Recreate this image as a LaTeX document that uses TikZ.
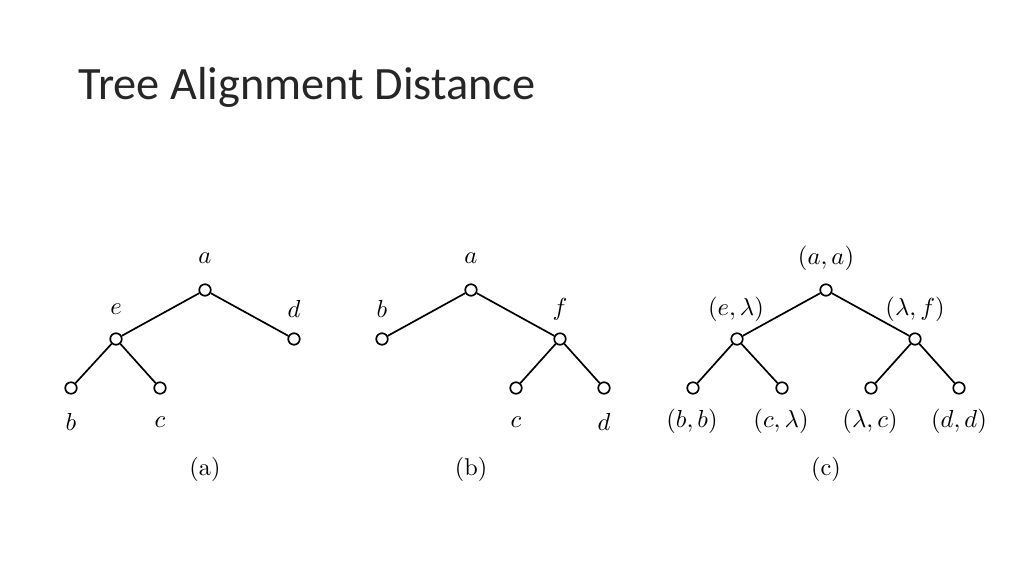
\documentclass[tikz,border=0pt]{standalone}
\usepackage{amsmath}
\usepackage{fontspec}
\newfontfamily\titlefont{Carlito}
\usetikzlibrary{positioning}

\begin{document}
\begin{tikzpicture}[x=0.015625cm, y=-0.015625cm,
    every node/.style={font=\fontsize{10.8}{13}\selectfont},
    vert/.style={circle, draw, line width=0.75pt, inner sep=0pt, minimum size=0.18cm},
    edge/.style={line width=0.75pt}]
    \useasboundingbox (0,0) rectangle (1024,576);

    % Title
    \node[anchor=base west, inner sep=0pt, text=black!85, font=\titlefont\fontsize{20.6}{24}\selectfont] (title) at (78,100) {Tree Alignment Distance};

    % Tree (a)
    \node[vert] (aa) at (205,290) {};
    \node[vert] (ae) at (116,339) {};
    \node[vert] (ad) at (294,339) {};
    \node[vert] (ab) at (71,388) {};
    \node[vert] (ac) at (160,388) {};
    \draw[edge] (aa) -- (ae);
    \draw[edge] (aa) -- (ad);
    \draw[edge] (ae) -- (ab);
    \draw[edge] (ae) -- (ac);
    \node (la) at (205,258) {$a$};
    \node (le) at (116,309) {$e$};
    \node (ld) at (294,309) {$d$};
    \node (lb) at (71,422) {$b$};
    \node (lc) at (160,422) {$c$};
    \node (capa) at (205,469) {(a)};

    % Tree (b)
    \node[vert] (ba) at (471,290) {};
    \node[vert] (bb) at (382,339) {};
    \node[vert] (bf) at (560,339) {};
    \node[vert] (bc) at (516,388) {};
    \node[vert] (bd) at (604,388) {};
    \draw[edge] (ba) -- (bb);
    \draw[edge] (ba) -- (bf);
    \draw[edge] (bf) -- (bc);
    \draw[edge] (bf) -- (bd);
    \node (lba) at (471,258) {$a$};
    \node (lbb) at (382,309) {$b$};
    \node (lbf) at (560,309) {$f$};
    \node (lbc) at (516,422) {$c$};
    \node (lbd) at (604,422) {$d$};
    \node (capb) at (471,469) {(b)};

    % Tree (c): the alignment
    \node[vert] (ca) at (826,290) {};
    \node[vert] (ce) at (737,339) {};
    \node[vert] (cf) at (915,339) {};
    \node[vert] (cb) at (693,388) {};
    \node[vert] (cc) at (782,388) {};
    \node[vert] (cl) at (871,388) {};
    \node[vert] (cd) at (959,388) {};
    \draw[edge] (ca) -- (ce);
    \draw[edge] (ca) -- (cf);
    \draw[edge] (ce) -- (cb);
    \draw[edge] (ce) -- (cc);
    \draw[edge] (cf) -- (cl);
    \draw[edge] (cf) -- (cd);
    \node (lca) at (826,258) {$(a,a)$};
    \node (lce) at (736,309) {$(e,\lambda)$};
    \node (lcf) at (915,309) {$(\lambda,f)$};
    \node (lcb) at (692,421) {$(b,b)$};
    \node (lcc) at (781,421) {$(c,\lambda)$};
    \node (lcl) at (870,421) {$(\lambda,c)$};
    \node (lcd) at (959,421) {$(d,d)$};
    \node (capc) at (826,469) {(c)};
\end{tikzpicture}
\end{document}
